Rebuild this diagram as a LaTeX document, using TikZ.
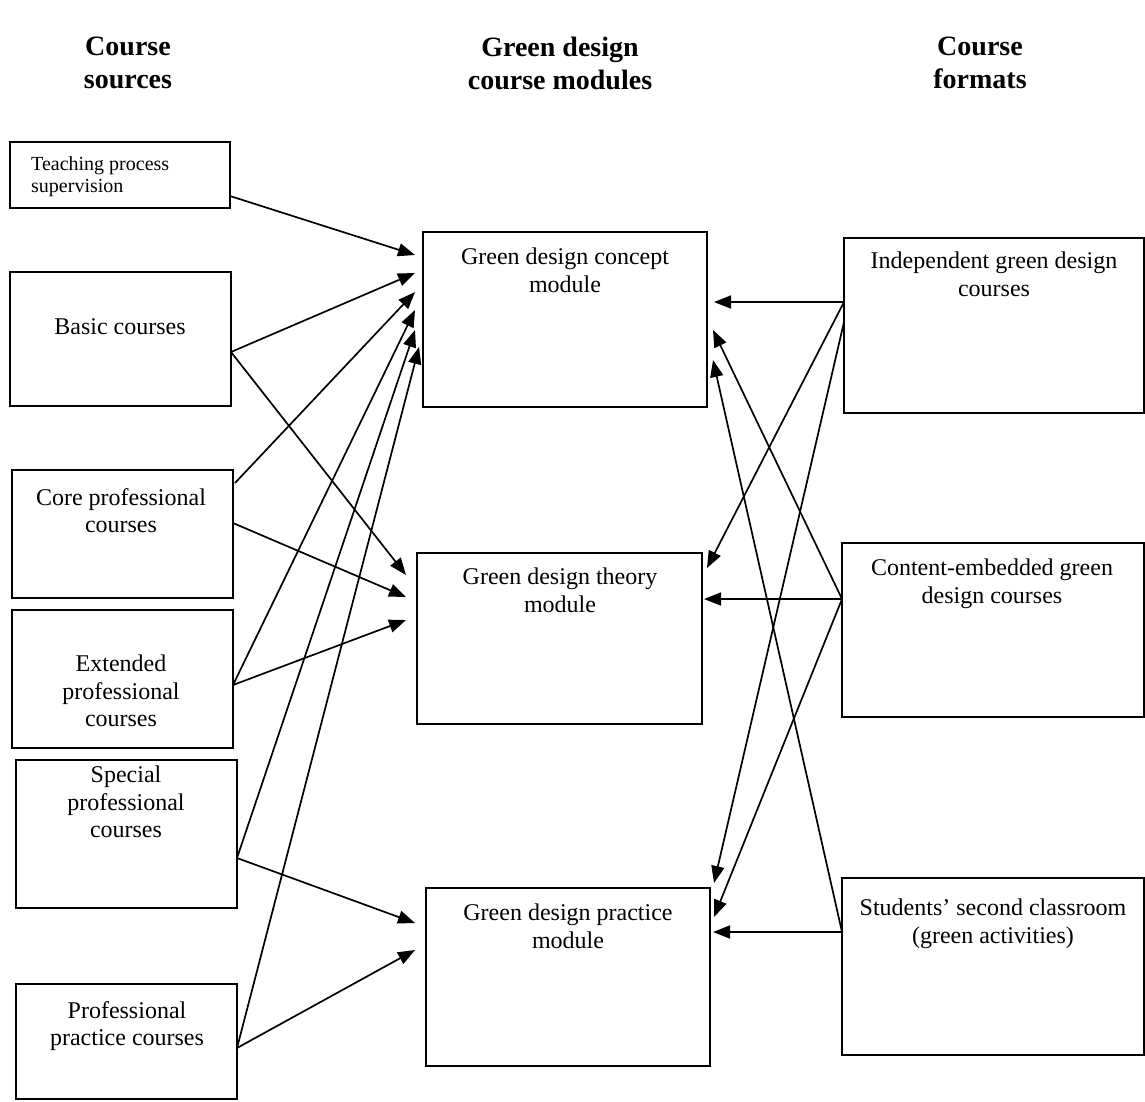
\documentclass[tikz,border=0pt]{standalone}
\usepackage{fontspec}
\setmainfont{Liberation Serif}
\usetikzlibrary{arrows.meta}
\begin{document}
\begin{tikzpicture}[x=1pt,y=-1pt,
  box/.style={draw,line width=1.8pt,inner sep=0pt,outer sep=0pt,anchor=north west},
  arr/.style={line width=1.7pt,-{Triangle[length=17pt,width=13pt]}},
  body/.style={inner sep=0pt,anchor=north,align=center,font=\fontsize{24}{27.5}\selectfont},
  small/.style={inner sep=0pt,anchor=north west,align=left,font=\fontsize{20}{22}\selectfont},
  head/.style={inner sep=0pt,anchor=north,align=center,font=\fontsize{28}{33}\selectfont\bfseries}]
\useasboundingbox[fill=white] (0,0) rectangle (1145,1101);
% headers
\node[head] (h1) at (128,37) {Course\\sources};
\node[head] (h2) at (560,37) {Green design\\course modules};
\node[head] (h3) at (980,37) {Course\\formats};
% left boxes
\node[box,minimum width=220,minimum height=66] (L1) at (10,142) {};
\node[box,minimum width=221,minimum height=134] (L2) at (10,272) {};
\node[box,minimum width=221,minimum height=128] (L3) at (12,470) {};
\node[box,minimum width=221,minimum height=138] (L4) at (12,610) {};
\node[box,minimum width=221,minimum height=148] (L5) at (16,760) {};
\node[box,minimum width=221,minimum height=115] (L6) at (16,984) {};
% middle boxes
\node[box,minimum width=284,minimum height=175] (M1) at (423,232) {};
\node[box,minimum width=285,minimum height=171] (M2) at (417,553) {};
\node[box,minimum width=284,minimum height=178] (M3) at (426,888) {};
% right boxes
\node[box,minimum width=300,minimum height=175] (R1) at (844,238) {};
\node[box,minimum width=302,minimum height=174] (R2) at (842,543) {};
\node[box,minimum width=302,minimum height=177] (R3) at (842,878) {};
% texts
\node[small] (L1t) at (31,156) {Teaching process\\supervision};
\node[body] (L2t) at (120,318) {Basic courses};
\node[body] (L3t) at (121,488) {Core professional\\courses};
\node[body] (L4t) at (121,655) {Extended\\professional\\courses};
\node[body] (L5t) at (126,766) {Special\\professional\\courses};
\node[body] (L6t) at (127,1001) {Professional\\practice courses};
\node[body] (M1t) at (565,248) {Green design concept\\module};
\node[body] (M2t) at (560,568) {Green design theory\\module};
\node[body] (M3t) at (568,904) {Green design practice\\module};
\node[body] (R1t) at (994,252) {Independent green design\\courses};
\node[body] (R2t) at (992,559) {Content-embedded green\\design courses};
\node[body] (R3t) at (993,899) {Students’ second classroom\\(green activities)};
% connectors from course sources
\draw[arr] ([shift={(0,54)}]L1.north east) -- ([shift={(-8,23)}]M1.north west);
\draw[arr] ([shift={(0,80)}]L2.north east) -- ([shift={(-8,41)}]M1.north west);
\draw[arr] ([shift={(0,80)}]L2.north east) -- ([shift={(-11,22)}]M2.north west);
\draw[arr] ([shift={(2,13)}]L3.north east) -- ([shift={(-8,60)}]M1.north west);
\draw[arr] ([shift={(0,53)}]L3.north east) -- ([shift={(-11,44)}]M2.north west);
\draw[arr] ([shift={(0,75)}]L4.north east) -- ([shift={(-8,78)}]M1.north west);
\draw[arr] ([shift={(0,75)}]L4.north east) -- ([shift={(-11,67)}]M2.north west);
\draw[arr] ([shift={(0,98)}]L5.north east) -- ([shift={(-8,98)}]M1.north west);
\draw[arr] ([shift={(0,98)}]L5.north east) -- ([shift={(-11,35)}]M3.north west);
\draw[arr] ([shift={(0,64)}]L6.north east) -- ([shift={(-4,115)}]M1.north west);
\draw[arr] ([shift={(0,64)}]L6.north east) -- ([shift={(-11,62)}]M3.north west);
% connectors from course formats
\draw[arr] ([shift={(0,64)}]R1.north west) -- ([shift={(7,70)}]M1.north east);
\draw[arr] ([shift={(0,64)}]R1.north west) -- ([shift={(5,15)}]M2.north east);
\draw[arr] ([shift={(0,84)}]R1.north west) -- ([shift={(4,-5)}]M3.north east);
\draw[arr] ([shift={(0,56)}]R2.north west) -- ([shift={(2,46)}]M2.north east);
\draw[arr] ([shift={(0,56)}]R2.north west) -- ([shift={(6,98)}]M1.north east);
\draw[arr] ([shift={(0,56)}]R2.north west) -- ([shift={(4,29)}]M3.north east);
\draw[arr] ([shift={(0,54)}]R3.north west) -- ([shift={(6,128)}]M1.north east);
\draw[arr] ([shift={(0,54)}]R3.north west) -- ([shift={(3,44)}]M3.north east);
\end{tikzpicture}
\end{document}
